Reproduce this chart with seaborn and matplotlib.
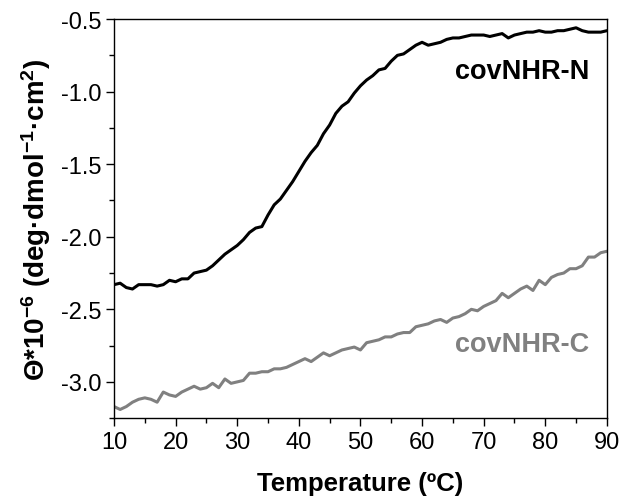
import numpy as np
import pandas as pd
import matplotlib
matplotlib.use("Agg")
import matplotlib.pyplot as plt
from matplotlib.ticker import MultipleLocator, FormatStrFormatter
import seaborn as sns

temperature = list(range(10, 91))

covnhr_n = [
    -2.33, -2.32, -2.35, -2.36, -2.33, -2.33, -2.33, -2.34, -2.33, -2.30,
    -2.31, -2.29, -2.29, -2.25, -2.24, -2.23, -2.20, -2.16, -2.12, -2.09,
    -2.06, -2.02, -1.97, -1.94, -1.93, -1.85, -1.78, -1.74, -1.68, -1.62,
    -1.55, -1.48, -1.42, -1.37, -1.29, -1.23, -1.15, -1.10, -1.07, -1.01,
    -0.96, -0.92, -0.89, -0.85, -0.84, -0.79, -0.75, -0.74, -0.71, -0.68,
    -0.66, -0.68, -0.67, -0.66, -0.64, -0.63, -0.63, -0.62, -0.61, -0.61,
    -0.61, -0.62, -0.61, -0.60, -0.63, -0.61, -0.60, -0.59, -0.59, -0.58,
    -0.59, -0.59, -0.58, -0.58, -0.57, -0.56, -0.58, -0.59, -0.59, -0.59,
    -0.58,
]

covnhr_c = [
    -3.17, -3.19, -3.17, -3.14, -3.12, -3.11, -3.12, -3.14, -3.07, -3.09,
    -3.10, -3.07, -3.05, -3.03, -3.05, -3.04, -3.01, -3.04, -2.98, -3.01,
    -3.00, -2.99, -2.94, -2.94, -2.93, -2.93, -2.91, -2.91, -2.90, -2.88,
    -2.86, -2.84, -2.86, -2.83, -2.80, -2.82, -2.80, -2.78, -2.77, -2.76,
    -2.78, -2.73, -2.72, -2.71, -2.69, -2.69, -2.67, -2.66, -2.66, -2.62,
    -2.61, -2.60, -2.58, -2.57, -2.59, -2.56, -2.55, -2.53, -2.50, -2.51,
    -2.48, -2.46, -2.44, -2.39, -2.42, -2.39, -2.36, -2.34, -2.37, -2.30,
    -2.33, -2.28, -2.26, -2.25, -2.22, -2.22, -2.20, -2.14, -2.14, -2.11,
    -2.10,
]

series_names = ["covNHR-N", "covNHR-C"]
series_colors = ["#000000", "#808080"]

df = pd.DataFrame({
    "Temperature": temperature * 2,
    "Theta": covnhr_n + covnhr_c,
    "Protein": [series_names[0]] * len(temperature) + [series_names[1]] * len(temperature),
})

sns.set_theme(style="ticks")
plt.rcParams["font.family"] = ["Liberation Sans", "DejaVu Sans"]
plt.rcParams["mathtext.fontset"] = "custom"
plt.rcParams["mathtext.rm"] = "Liberation Sans:bold"
plt.rcParams["mathtext.bf"] = "Liberation Sans:bold"
plt.rcParams["mathtext.default"] = "bf"
plt.rcParams["text.color"] = "black"
plt.rcParams["axes.labelcolor"] = "black"

fig = plt.figure(figsize=(6.25, 5.02), dpi=100)
ax = fig.add_axes([0.1824, 0.165, 0.7886, 0.795])

sns.lineplot(data=df, x="Temperature", y="Theta", hue="Protein",
             palette=dict(zip(series_names, series_colors)),
             linewidth=2.2, legend=False, ax=ax)

ax.set_xlim(10, 90)
ax.set_ylim(-3.25, -0.5)
ax.xaxis.set_major_locator(MultipleLocator(10))
ax.xaxis.set_minor_locator(MultipleLocator(5))
ax.yaxis.set_major_locator(MultipleLocator(0.5))
ax.yaxis.set_minor_locator(MultipleLocator(0.25))
ax.yaxis.set_major_formatter(FormatStrFormatter("%.1f"))

ax.tick_params(axis="both", which="major", direction="out", length=6, width=1,
               labelsize=17, colors="black", pad=3)
ax.tick_params(axis="both", which="minor", direction="out", length=3.5, width=1,
               colors="black")
for s in ax.spines.values():
    s.set_visible(True)
    s.set_linewidth(1.0)
    s.set_color("black")

ax.set_xlabel("Temperature (ºC)", fontsize=18.5, fontweight="bold", labelpad=13)
ax.set_ylabel(r"Θ*10$^{-6}$ (deg·dmol$^{-1}$·cm$^{2}$)", fontsize=20,
              fontweight="bold", labelpad=6)

ax.text(76.3, -0.86, series_names[0], fontsize=19.5, fontweight="bold",
        color=series_colors[0], ha="center", va="center")
ax.text(76.3, -2.74, series_names[1], fontsize=19.5, fontweight="bold",
        color=series_colors[1], ha="center", va="center")

fig.savefig("out.png", dpi=100, facecolor="white")
